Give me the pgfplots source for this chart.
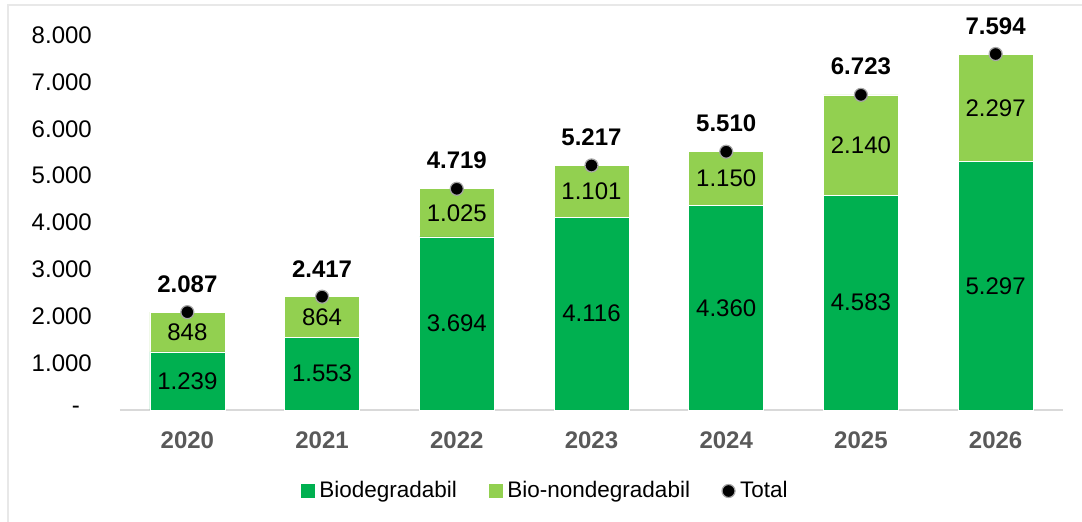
\documentclass[border=0pt]{standalone}
\usepackage{pgfplots}
\pgfplotsset{compat=1.18}
\usepackage{fontspec}
\setmainfont{Liberation Sans}
\definecolor{bio}{HTML}{00B050}
\definecolor{nonbio}{HTML}{92D050}
\definecolor{axgray}{HTML}{D9D9D9}
\definecolor{lblgray}{HTML}{595959}
\definecolor{framegray}{HTML}{E8E8E8}
\begin{document}
\fontsize{24}{29}\selectfont
\begin{tikzpicture}[x=1pt,y=1pt]
\useasboundingbox (-120,-112) rectangle (962,410);
\draw[framegray, line width=1.2pt] (-112,-112) -- (-112,405) -- (962,405);
\begin{axis}[
  at={(0,0)}, anchor=south west,
  scale only axis, width=943pt, height=375pt,
  xmin=-0.5, xmax=6.5, ymin=0, ymax=8000,
  ybar stacked, bar width=75pt,
  axis x line*=bottom, axis y line*=left,
  y axis line style={draw=none},
  x axis line style={axgray, line width=1.2pt},
  tick style={draw=none}, major tick length=0pt,
  xtick={0,1,2,3,4,5,6},
  xticklabels={2020,2021,2022,2023,2024,2025,2026},
  xticklabel style={font=\bfseries, text=lblgray, yshift=-14pt},
  ytick={0,1000,2000,3000,4000,5000,6000,7000,8000},
  yticklabels={{\mbox{-}\rule{12pt}{0pt}},1.000,2.000,3.000,4.000,5.000,6.000,7.000,8.000},
  yticklabel style={xshift=-20pt},
  clip=false,
]
\addplot[fill=bio, draw=white, line width=0.6pt] coordinates {(0,1239) (1,1553) (2,3694) (3,4116) (4,4360) (5,4583) (6,5297)};
\addplot[fill=nonbio, draw=white, line width=0.6pt] coordinates {(0,848) (1,864) (2,1025) (3,1101) (4,1150) (5,2140) (6,2297)};
\end{axis}
\begin{axis}[
  at={(0,0)}, anchor=south west,
  scale only axis, width=943pt, height=375pt,
  xmin=-0.5, xmax=6.5, ymin=0, ymax=8000,
  hide axis, clip=false,
  legend columns=3,
  legend style={draw=none, fill=none, at={(0.451,-0.216)}, anchor=center,
    font=\fontsize{22.5}{27}\selectfont,
    /tikz/every odd column/.append style={column sep=3pt},
    /tikz/every even column/.append style={column sep=30pt}},
  legend cell align=left,
]
\addlegendimage{legend image code/.code={\fill[bio] (0pt,-6.5pt) rectangle (13pt,6.5pt);}}
\addlegendentry{Biodegradabil}
\addlegendimage{legend image code/.code={\fill[nonbio] (0pt,-6.5pt) rectangle (13pt,6.5pt);}}
\addlegendentry{Bio-nondegradabil}
\addlegendimage{only marks, mark=*, mark size=6.5pt, mark options={fill=black, draw=gray!70, line width=1.2pt}}
\addlegendentry{Total}
\addplot[draw=none, mark=none, nodes near coords, point meta=explicit symbolic,
  nodes near coords style={anchor=center, text=black}, forget plot]
  coordinates {(0,619.5)[1.239] (1,776.5)[1.553] (2,1847)[3.694] (3,2058)[4.116] (4,2180)[4.360] (5,2291.5)[4.583] (6,2648.5)[5.297]
  (0,1663)[848] (1,1985)[864] (2,4206.5)[1.025] (3,4666.5)[1.101] (4,4935)[1.150] (5,5653)[2.140] (6,6445.5)[2.297]};
\addplot[only marks, mark=*, mark size=6.5pt, mark options={fill=black, draw=gray!70, line width=1.2pt},
  nodes near coords, point meta=explicit symbolic,
  nodes near coords style={font=\bfseries, text=black, anchor=south, yshift=11pt}, forget plot]
  coordinates {(0,2087)[2.087] (1,2417)[2.417] (2,4719)[4.719] (3,5217)[5.217] (4,5510)[5.510] (5,6723)[6.723] (6,7594)[7.594]};
\end{axis}
\end{tikzpicture}
\end{document}
